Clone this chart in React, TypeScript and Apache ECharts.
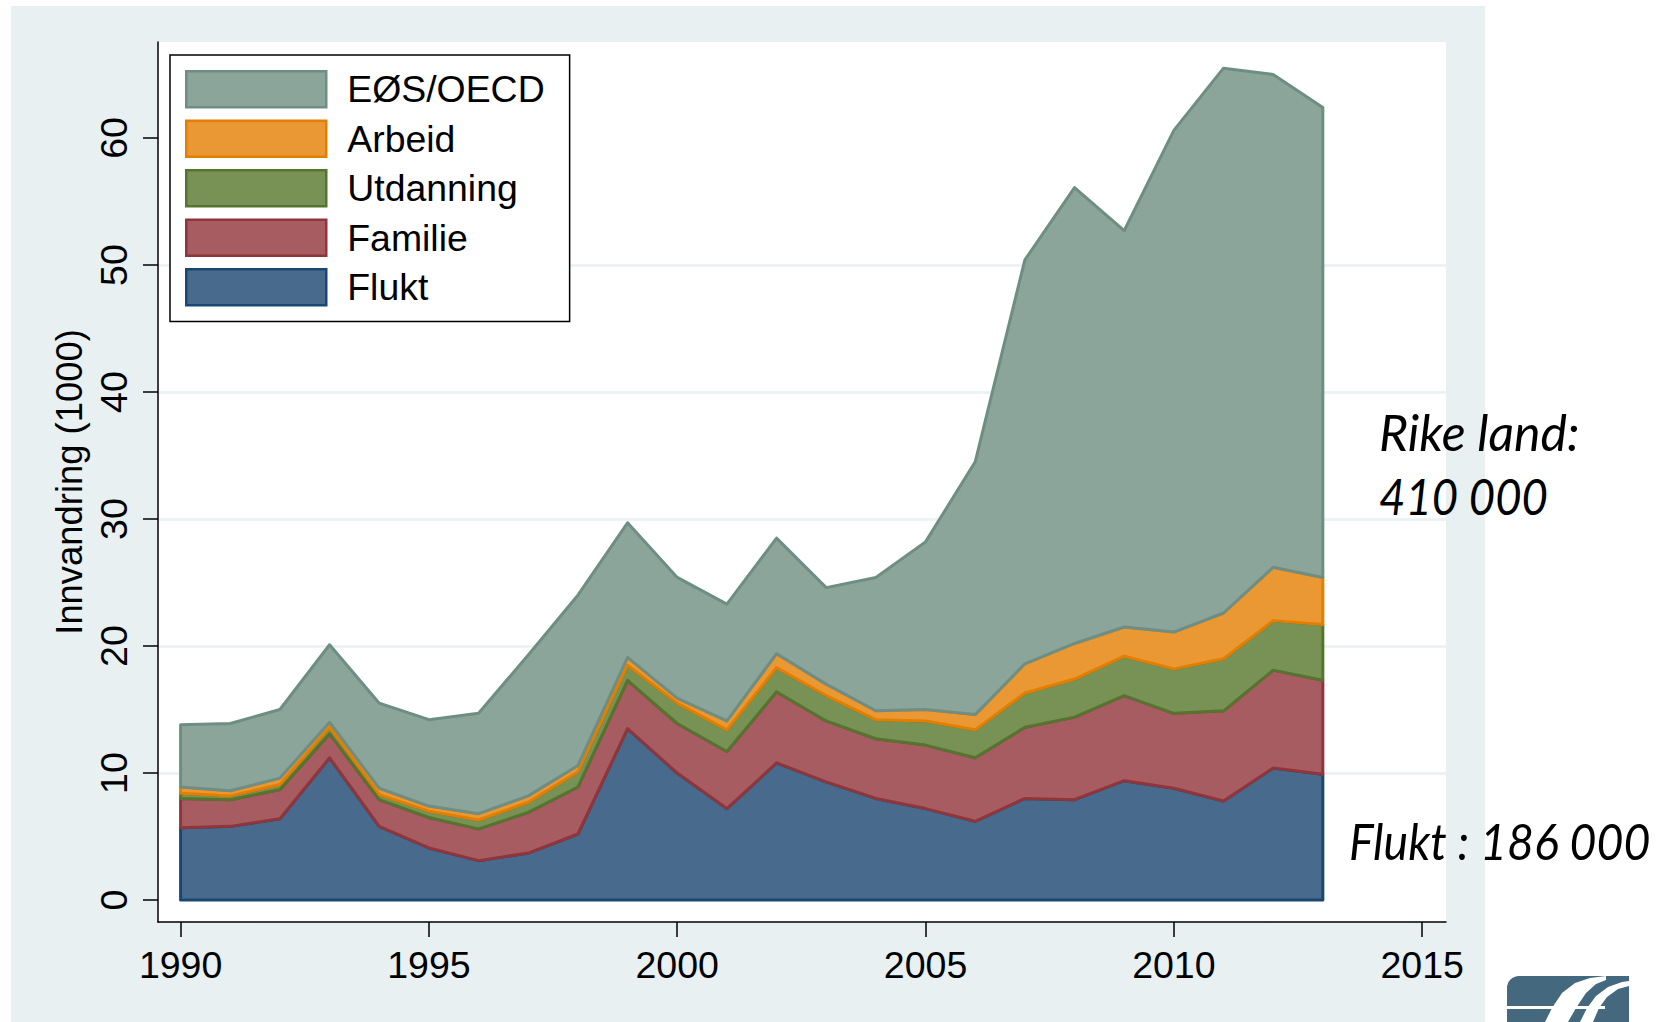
import React, { useEffect, useRef } from 'react';
import * as echarts from 'echarts';

const years = [1990, 1991, 1992, 1993, 1994, 1995, 1996, 1997, 1998, 1999, 2000, 2001, 2002, 2003, 2004, 2005, 2006, 2007, 2008, 2009, 2010, 2011, 2012, 2013];
const flukt = [5.7, 5.8, 6.4, 11.2, 5.8, 4.1, 3.1, 3.7, 5.2, 13.5, 10.0, 7.2, 10.8, 9.3, 8.0, 7.2, 6.2, 8.0, 7.9, 9.4, 8.8, 7.8, 10.4, 9.9];
const familie = [2.3, 2.1, 2.3, 1.9, 2.1, 2.4, 2.5, 3.2, 3.7, 3.8, 3.9, 4.5, 5.6, 4.8, 4.7, 5.0, 5.0, 5.6, 6.5, 6.7, 5.9, 7.1, 7.7, 7.4];
const utdanning = [0.4, 0.3, 0.4, 0.5, 0.4, 0.5, 0.7, 0.8, 1.2, 1.2, 1.6, 1.7, 1.9, 2.0, 1.5, 1.9, 2.2, 2.7, 3.0, 3.1, 3.5, 4.1, 3.9, 4.4];
const arbeid = [0.5, 0.4, 0.5, 0.4, 0.5, 0.4, 0.5, 0.5, 0.5, 0.6, 0.4, 0.7, 1.1, 0.9, 0.7, 0.9, 1.2, 2.3, 2.8, 2.3, 2.9, 3.6, 4.2, 3.7];
const eosOecd = [4.9, 5.3, 5.4, 6.1, 6.7, 6.8, 7.9, 11.1, 13.4, 10.6, 9.5, 9.2, 9.1, 7.6, 10.5, 13.2, 19.9, 31.8, 35.9, 31.2, 39.5, 42.9, 38.8, 37.0];

const seriesNames = ['Flukt', 'Familie', 'Utdanning', 'Arbeid', 'EØS/OECD'];
const legendOrder = ['EØS/OECD', 'Arbeid', 'Utdanning', 'Familie', 'Flukt'];
const xTicks = [1990, 1995, 2000, 2005, 2010, 2015];
const yTicks = [0, 10, 20, 30, 40, 50, 60];
const yTitle = 'Innvandring (1000)';
const noteRich = ['Rike land:', '410 000'];
const noteFlukt = 'Flukt : 186 000';

const fills = ['#486a8c', '#a65c60', '#789256', '#ea9834', '#8ba59a'];
const strokes = ['#1a476f', '#90353b', '#55752f', '#e37e00', '#6e8e84'];

const FONT = '"Liberation Sans", Arial, sans-serif';
const NOTE_FONT = 'Lato, sans-serif';

export default function App() {
  const ref = useRef<HTMLDivElement>(null);

  useEffect(() => {
    const chart = echarts.init(ref.current as HTMLDivElement, null, { renderer: 'svg' });

    const values = [flukt, familie, utdanning, arbeid, eosOecd];
    const lowers: number[][] = [];
    const uppers: number[][] = [];
    let running = years.map(() => 0);
    values.forEach((arr) => {
      lowers.push(running.slice());
      running = running.map((v, i) => Math.round((v + arr[i]) * 100) / 100);
      uppers.push(running.slice());
    });

    const series = seriesNames.map((name, k) => ({
      name,
      type: 'custom',
      coordinateSystem: 'cartesian2d',
      encode: { x: 0, y: [1, 2] },
      z: 2 + k,
      itemStyle: { color: fills[k], borderColor: strokes[k], borderWidth: 3 },
      data: years.map((y, i) => [y, lowers[k][i], uppers[k][i]]),
      renderItem: (params: any, api: any) => {
        if (params.dataIndex !== 0) return null;
        const top: number[][] = [];
        const bottom: number[][] = [];
        for (let i = 0; i < years.length; i++) {
          top.push(api.coord([years[i], uppers[k][i]]));
          bottom.push(api.coord([years[i], lowers[k][i]]));
        }
        const points = top.concat(bottom.reverse());
        return {
          type: 'polygon',
          shape: { points },
          style: { fill: fills[k], stroke: strokes[k], lineWidth: 3, lineJoin: 'round' },
        };
      },
    }));

    const noteStyle = (text: string) => ({
      text,
      fontSize: 50,
      fontStyle: 'italic',
      fontFamily: NOTE_FONT,
      fill: '#000',
      textAlign: 'left',
      textVerticalAlign: 'middle',
    });

    const option: any = {
      animation: false,
      backgroundColor: '#ffffff',
      grid: {
        left: 158,
        right: 220,
        top: 42,
        bottom: 100,
        show: true,
        backgroundColor: '#ffffff',
        borderWidth: 0,
      },
      legend: {
        orient: 'vertical',
        left: 170,
        top: 55,
        icon: 'rect',
        itemWidth: 140,
        itemHeight: 36,
        itemGap: 11,
        padding: [15, 25, 15, 15],
        backgroundColor: '#ffffff',
        borderColor: '#000000',
        borderWidth: 1.5,
        selectedMode: false,
        textStyle: { fontSize: 37.4, lineHeight: 36, fontFamily: FONT, color: '#000', padding: [0, 0, 0, 16] },
        data: legendOrder.map((n) => {
          const k = seriesNames.indexOf(n);
          return { name: n, itemStyle: { color: fills[k], borderColor: strokes[k], borderWidth: 2.5 } };
        }),
      },
      xAxis: {
        type: 'value',
        min: 1989.545,
        max: 2015.48,
        minInterval: 5,
        maxInterval: 5,
        axisLine: { show: true, onZero: false, lineStyle: { color: '#000', width: 1.5 } },
        axisTick: { show: true, length: 15, customValues: xTicks, lineStyle: { color: '#000', width: 1.5 } },
        axisLabel: {
          customValues: xTicks,
          fontSize: 37.5,
          fontFamily: FONT,
          color: '#000',
          margin: 24,
          formatter: (v: number) => String(v),
        },
        splitLine: { show: false },
      },
      yAxis: {
        type: 'value',
        min: -1.73,
        max: 67.56,
        minInterval: 10,
        maxInterval: 10,
        name: yTitle,
        nameLocation: 'middle',
        nameRotate: 90,
        nameGap: 68,
        nameTextStyle: { fontSize: 36.4, fontFamily: FONT, color: '#000' },
        axisLine: { show: true, onZero: false, lineStyle: { color: '#000', width: 1.5 } },
        axisTick: { show: true, length: 15, customValues: yTicks, lineStyle: { color: '#000', width: 1.5 } },
        axisLabel: {
          customValues: yTicks,
          rotate: 90,
          fontSize: 37.5,
          fontFamily: FONT,
          color: '#000',
          margin: 25,
          formatter: (v: number) => String(v),
        },
        splitLine: {
          show: true,
          showMinLine: false,
          showMaxLine: false,
          lineStyle: { color: '#e9f1f3', width: 2.5 },
        },
      },
      series,
      graphic: [
        {
          type: 'rect',
          z: -100,
          silent: true,
          shape: { x: 11, y: 6, width: 1474, height: 1016 },
          style: { fill: '#e8f0f2' },
        },
        { type: 'text', z: 100, x: 1379, y: 432, style: noteStyle(noteRich[0]) },
        { type: 'text', z: 100, x: 1379, y: 496, scaleX: 0.91, style: noteStyle(noteRich[1]) },
        { type: 'text', z: 100, x: 1349, y: 840, scaleX: 0.93, style: noteStyle(noteFlukt) },
        {
          type: 'group',
          z: 50,
          children: [
            { type: 'rect', shape: { x: 1507, y: 976, width: 122, height: 46, r: [12, 0, 0, 0] }, style: { fill: '#44697f' } },
            { type: 'rect', shape: { x: 1507, y: 1006, width: 98, height: 3 }, style: { fill: '#ffffff' } },
            {
              type: 'polygon',
              shape: { points: [[1545, 1022], [1552, 1008], [1562, 993], [1575, 983], [1590, 978], [1606, 976], [1606, 980], [1596, 984], [1586, 993], [1576, 1008], [1568, 1022]] },
              style: { fill: '#ffffff' },
            },
            {
              type: 'polygon',
              shape: { points: [[1580, 1022], [1587, 1008], [1596, 996], [1608, 987], [1622, 982], [1629, 981], [1629, 986], [1618, 989], [1607, 997], [1599, 1008], [1593, 1022]] },
              style: { fill: '#ffffff' },
            },
          ],
        },
      ],
    };

    chart.setOption(option);
    return () => chart.dispose();
  }, []);

  return (
    <div
      ref={ref}
      style={{ position: 'absolute', left: 0, top: 0, width: 1666, height: 1022, background: '#ffffff' }}
    />
  );
}
